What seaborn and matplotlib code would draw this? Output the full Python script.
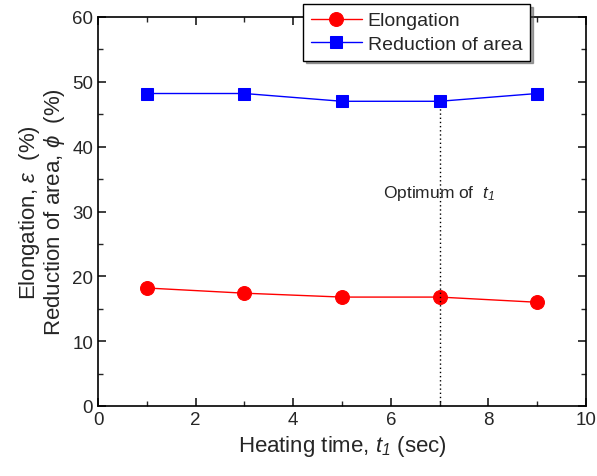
import matplotlib
matplotlib.use("Agg")
import matplotlib.pyplot as plt
import seaborn as sns
import pandas as pd
from matplotlib.ticker import MultipleLocator

heating_time = [1, 3, 5, 7, 9]
elongation = [18.2, 17.4, 16.8, 16.8, 16.0]
reduction_area = [48.2, 48.2, 47.0, 47.0, 48.2]

sns.set_theme(style="ticks")
plt.rcParams['font.family'] = ['Liberation Sans', 'DejaVu Sans']
plt.rcParams['mathtext.fontset'] = 'custom'
plt.rcParams['mathtext.it'] = 'Liberation Sans:italic'
plt.rcParams['mathtext.rm'] = 'Liberation Sans:italic'

df = pd.DataFrame({"t": heating_time, "Elongation": elongation,
                   "Reduction of area": reduction_area})

fig = plt.figure(figsize=(5.97, 4.77), dpi=100)
ax = fig.add_axes([98/597, 1-407/477, (586-98)/597, (407-18)/477])

sns.lineplot(data=df, x="t", y="Elongation", ax=ax, color="red", marker="o",
             markersize=10, markeredgecolor="red", lw=1, label="Elongation")
sns.lineplot(data=df, x="t", y="Reduction of area", ax=ax, color="blue", marker="s",
             markersize=9, markeredgecolor="blue", lw=1, label="Reduction of area")

ax.plot([7, 7], [0, 46], color="black", ls=(0, (1, 2)), lw=1)
ax.text(5.85, 32.3, "Optimum of  $t_1$", fontsize=12.5)

ax.set_xlim(0, 10)
ax.set_ylim(0, 60)
ax.xaxis.set_major_locator(MultipleLocator(2))
ax.xaxis.set_minor_locator(MultipleLocator(1))
ax.yaxis.set_major_locator(MultipleLocator(10))
ax.yaxis.set_minor_locator(MultipleLocator(5))
ax.tick_params(which="both", direction="in", top=True, right=True, labelsize=13.5)
ax.tick_params(which="major", length=6)
ax.tick_params(which="minor", length=3.5)
for s in ax.spines.values():
    s.set_linewidth(1.2)
    s.set_color("black")

ax.set_xlabel("Heating time, $t_1$ (sec)", fontsize=16)
ax.set_ylabel("Elongation, $\\varepsilon$  (%)\nReduction of area, $\\phi$  (%)", fontsize=16,
              linespacing=1.0)

leg = ax.legend(loc="upper right", bbox_to_anchor=((530-98)/488, (407-5)/389), fontsize=14,
                frameon=True, fancybox=False, shadow=True, handlelength=2.6,
                borderpad=0.4, labelspacing=0.3, handletextpad=0.3, borderaxespad=0)
leg.get_frame().set_edgecolor("black")
leg.get_frame().set_alpha(1)

fig.savefig("out.png", dpi=100)
